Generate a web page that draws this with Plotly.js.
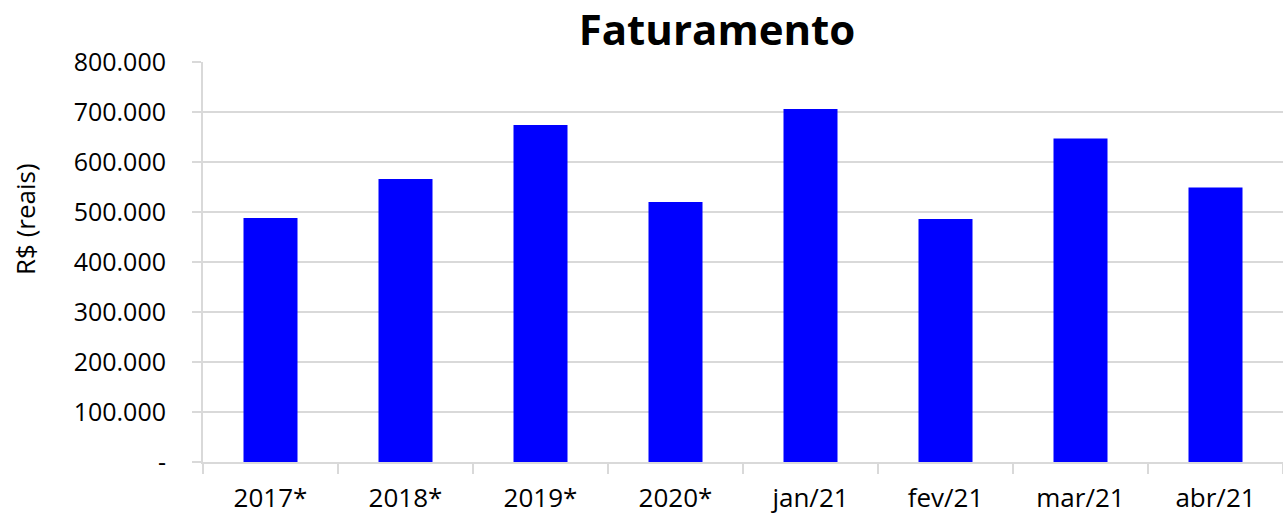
<!DOCTYPE html>
<html>
<head>
<meta charset="utf-8">
<script src="https://cdn.plot.ly/plotly-3.0.1.min.js"></script>
<style>html,body{margin:0;padding:0;background:#fff;}#chart{width:1283px;height:517px;}</style>
</head>
<body>
<div id="chart"></div>
<script>
const categories = ["2017*", "2018*", "2019*", "2020*", "jan/21", "fev/21", "mar/21", "abr/21"];
const faturamento = [488000, 566000, 674000, 520000, 706000, 486000, 647000, 549000];
const yTickValues = [0, 100000, 200000, 300000, 400000, 500000, 600000, 700000, 800000];
const yTickLabels = ["-", "100.000", "200.000", "300.000", "400.000", "500.000", "600.000", "700.000", "800.000"];
const yAxisTitle = "R$ (reais)";
const chartTitle = "Faturamento";

const fontFamily = "'Open Sans', 'Noto Sans', sans-serif";

const trace = {
  type: "bar",
  x: categories,
  y: faturamento,
  marker: {color: "#0000ff"},
  width: 0.4,
  hoverinfo: "x+y"
};

const layout = {
  width: 1283,
  height: 517,
  margin: {l: 203, r: 0, t: 62, b: 55, pad: 0},
  paper_bgcolor: "#ffffff",
  plot_bgcolor: "#ffffff",
  showlegend: false,
  font: {family: fontFamily, color: "#000000", size: 25},
  title: {
    text: "<b>" + chartTitle + "</b>",
    font: {family: fontFamily, size: 42, color: "#000000"},
    x: 717 / 1283, xref: "container", xanchor: "center",
    y: 1 - 30 / 517, yref: "container", yanchor: "middle"
  },
  xaxis: {
    type: "category",
    tickson: "boundaries",
    ticks: "outside",
    ticklen: 10,
    tickcolor: "#d9d9d9",
    tickwidth: 2,
    showgrid: false,
    showline: true,
    linecolor: "#d9d9d9",
    linewidth: 2,
    tickfont: {family: fontFamily, size: 26, color: "#000000"},
    ticklabelstandoff: 12,
    range: [-0.5, 7.5]
  },
  yaxis: {
    range: [0, 800000],
    tickmode: "array",
    tickvals: yTickValues,
    ticktext: yTickLabels,
    ticks: "outside",
    ticklen: 9,
    tickcolor: "#d9d9d9",
    tickwidth: 2,
    showgrid: true,
    gridcolor: "#d9d9d9",
    gridwidth: 2,
    showline: true,
    linecolor: "#d9d9d9",
    linewidth: 2,
    zeroline: false,
    tickfont: {family: fontFamily, size: 25, color: "#000000"},
    ticklabelstandoff: 21
  },
  annotations: [{
    text: yAxisTitle,
    textangle: -90,
    xref: "paper", yref: "paper",
    x: (25 - 203) / 1080, y: (462 - 219) / 400,
    xanchor: "center", yanchor: "middle",
    showarrow: false,
    font: {family: fontFamily, size: 26, color: "#000000"}
  }],
  bargap: 0.6
};

Plotly.newPlot("chart", [trace], layout, {displayModeBar: false, staticPlot: true});
</script>
</body>
</html>
